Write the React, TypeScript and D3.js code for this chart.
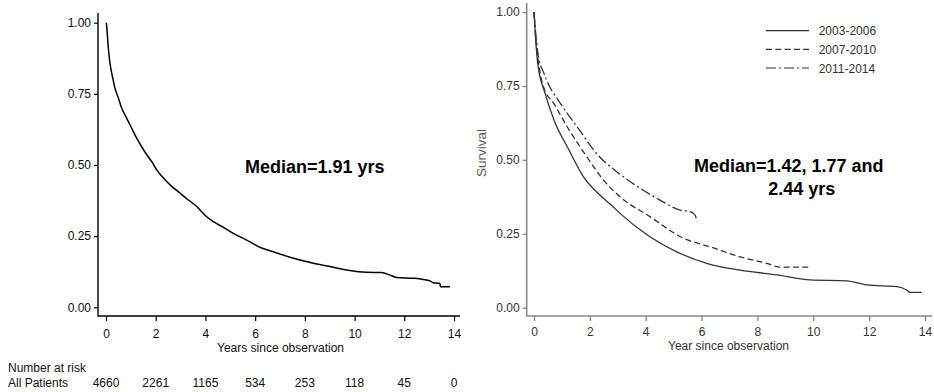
import React, { useEffect, useRef } from 'react';
import * as d3 from 'd3';

// left panel: all patients
const allTimes = [0, 0.027, 0.054, 0.094, 0.134, 0.19, 0.27, 0.36, 0.5, 0.63, 0.83, 1.03, 1.23, 1.43, 1.64, 1.84, 2.04, 2.31, 2.57, 2.98, 3.3, 3.65, 4.05, 4.32, 4.72, 5.12, 5.66, 6.19, 6.73, 7.4, 7.8, 8.34, 9.14, 9.81, 10.49, 11.09, 11.42, 11.69, 12.36, 12.76, 13.03, 13.17, 13.44, 13.45, 13.84];
const allSurv = [1, 0.99, 0.958, 0.911, 0.876, 0.841, 0.806, 0.77, 0.735, 0.7, 0.665, 0.63, 0.595, 0.565, 0.536, 0.512, 0.483, 0.454, 0.431, 0.401, 0.378, 0.354, 0.318, 0.301, 0.281, 0.26, 0.236, 0.211, 0.195, 0.176, 0.166, 0.155, 0.141, 0.129, 0.123, 0.122, 0.113, 0.105, 0.102, 0.098, 0.093, 0.086, 0.084, 0.072, 0.072];

// right panel: by period
const periods = ['2003-2006', '2007-2010', '2011-2014'];
const p1Times = [0, 0.05, 0.14, 0.38, 0.74, 1.22, 1.81, 2.36, 2.77, 3.08, 4.15, 5.11, 6.18, 7.38, 8.69, 9.88, 11.2, 11.91, 12.99, 13.34, 13.46, 13.88];
const p1Surv = [1, 0.92, 0.821, 0.73, 0.629, 0.539, 0.437, 0.381, 0.347, 0.319, 0.24, 0.189, 0.15, 0.127, 0.111, 0.094, 0.091, 0.077, 0.071, 0.06, 0.052, 0.052];
const p2Times = [0, 0.05, 0.14, 0.32, 0.74, 1.22, 1.93, 2.5, 3.08, 4.15, 5.35, 6.3, 7.38, 8.33, 8.81, 9.88];
const p2Surv = [1, 0.93, 0.845, 0.753, 0.686, 0.607, 0.505, 0.43, 0.375, 0.308, 0.235, 0.206, 0.172, 0.15, 0.137, 0.137];
const p3Times = [0, 0.05, 0.14, 0.38, 0.98, 1.58, 2.29, 2.96, 3.8, 4.51, 5.23, 5.58, 5.77, 5.83];
const p3Surv = [1, 0.94, 0.86, 0.787, 0.686, 0.607, 0.516, 0.46, 0.404, 0.364, 0.33, 0.325, 0.313, 0.291];

const xTicks = [0, 2, 4, 6, 8, 10, 12, 14];
const yTicks = [0, 0.25, 0.5, 0.75, 1];
const atRisk = [4660, 2261, 1165, 534, 253, 118, 45, 0];

const FONT = '"Liberation Sans", Arial, sans-serif';
const dashes = [null, '6,3.3', '10,3,2,3'];

const App = () => {
	const ref = useRef<SVGSVGElement>(null);

	useEffect(() => {
		const svg = d3.select(ref.current);
		svg.selectAll('*').remove();
		svg.attr('font-family', FONT);

		// ---------- left panel ----------
		const xL = d3.scaleLinear().domain([0, 14]).range([106, 454]);
		const yL = d3.scaleLinear().domain([0, 1]).range([307.3, 22.7]);

		const gy = svg.append('g').attr('transform', 'translate(98,0)')
			.call(d3.axisLeft(yL).tickValues(yTicks).tickFormat(d3.format('.2f')).tickSize(4).tickPadding(3));
		const gx = svg.append('g').attr('transform', 'translate(0,316)')
			.call(d3.axisBottom(xL).tickValues(xTicks).tickSize(5).tickPadding(8));
		[gy, gx].forEach(g => {
			g.select('.domain').remove();
			g.selectAll('line').attr('stroke', '#000').attr('stroke-width', 1.2);
			g.selectAll('text').attr('font-size', 12).attr('fill', '#111').attr('font-family', FONT);
		});
		svg.append('path').attr('d', 'M98,13V316H460').attr('fill', 'none').attr('stroke', '#000').attr('stroke-width', 1.4);

		const lineL = d3.line<number>().x((d, i) => xL(allTimes[i])).y(d => yL(d)).curve(d3.curveMonotoneX);
		svg.append('path').datum(allSurv).attr('d', lineL).attr('fill', 'none')
			.attr('stroke', '#000').attr('stroke-width', 1.5);

		svg.append('text').text('Years since observation').attr('x', 280.5).attr('y', 352)
			.attr('text-anchor', 'middle').attr('font-size', 12).attr('fill', '#111');
		svg.append('text').text('Median=1.91 yrs').attr('x', 245).attr('y', 172.5)
			.attr('font-size', 18).attr('font-weight', 'bold').attr('fill', '#000');

		// number at risk
		svg.append('text').text('Number at risk').attr('x', 8).attr('y', 371.5).attr('font-size', 12).attr('fill', '#111');
		svg.append('text').text('All Patients').attr('x', 8).attr('y', 387).attr('font-size', 12).attr('fill', '#111');
		svg.selectAll('.risk').data(atRisk).enter().append('text')
			.attr('class', 'risk')
			.attr('x', (d, i) => xL(xTicks[i]))
			.attr('y', 387)
			.attr('text-anchor', 'middle')
			.attr('font-size', 12).attr('fill', '#111')
			.text(d => d);

		// ---------- right panel ----------
		const xR = d3.scaleLinear().domain([0, 14]).range([534, 925]);
		const yR = d3.scaleLinear().domain([0, 1]).range([307.7, 12]);

		const gy2 = svg.append('g').attr('transform', 'translate(526.7,0)')
			.call(d3.axisLeft(yR).tickValues(yTicks).tickFormat(d3.format('.2f')).tickSize(4).tickPadding(3));
		const gx2 = svg.append('g').attr('transform', 'translate(0,316)')
			.call(d3.axisBottom(xR).tickValues(xTicks).tickSize(5).tickPadding(6));
		[gy2, gx2].forEach(g => {
			g.select('.domain').remove();
			g.selectAll('line').attr('stroke', '#808080').attr('stroke-width', 1.3);
			g.selectAll('text').attr('font-size', 12).attr('fill', '#333').attr('font-family', FONT);
		});
		svg.append('path').attr('d', 'M526.7,3V316H932').attr('fill', 'none').attr('stroke', '#888').attr('stroke-width', 1.6);

		const series = [[p1Times, p1Surv], [p2Times, p2Surv], [p3Times, p3Surv]];
		series.forEach(([ts, ss], k) => {
			const ln = d3.line<number>().x((d, i) => xR(ts[i])).y(d => yR(d)).curve(d3.curveMonotoneX);
			const p = svg.append('path').datum(ss).attr('d', ln).attr('fill', 'none')
				.attr('stroke', '#333').attr('stroke-width', 1.3);
			if (dashes[k]) p.attr('stroke-dasharray', dashes[k]);
		});

		svg.append('text').text('Year since observation').attr('x', 728.5).attr('y', 349.5)
			.attr('text-anchor', 'middle').attr('font-size', 12).attr('fill', '#333');
		svg.append('text').text('Survival').attr('transform', 'translate(486,153) rotate(-90)')
			.attr('text-anchor', 'middle').attr('font-size', 13.5).attr('fill', '#555');

		// legend
		const leg = svg.append('g');
		periods.forEach((p, k) => {
			const y = 30.7 + k * 18.65;
			const l = leg.append('line').attr('x1', 766).attr('x2', 809).attr('y1', y).attr('y2', y)
				.attr('stroke', '#333').attr('stroke-width', 1.2);
			if (dashes[k]) l.attr('stroke-dasharray', dashes[k]);
			leg.append('text').text(p).attr('x', 818.7).attr('y', y + 4.5)
				.attr('font-size', 12).attr('fill', '#333');
		});

		svg.append('text').text('Median=1.42, 1.77 and').attr('x', 694).attr('y', 171.7)
			.attr('font-size', 18).attr('font-weight', 'bold').attr('fill', '#000');
		svg.append('text').text('2.44 yrs').attr('x', 768.3).attr('y', 195)
			.attr('font-size', 18).attr('font-weight', 'bold').attr('fill', '#000');
	}, []);

	return (
		<svg ref={ref} width={934} height={392}
			style={{ position: 'absolute', left: 0, top: 0, background: '#fff' }} />
	);
};

export default App;
